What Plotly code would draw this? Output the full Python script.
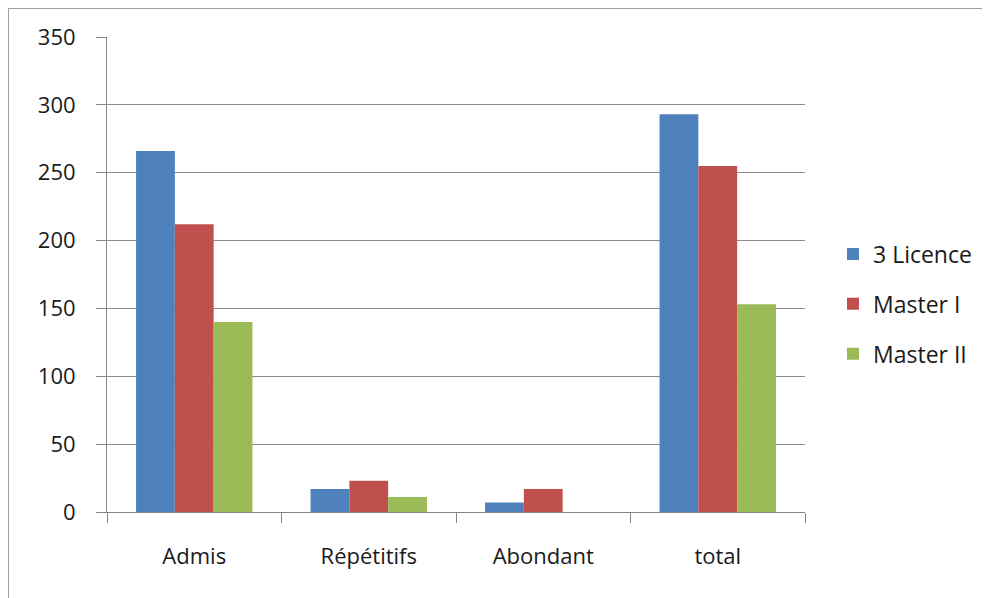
import plotly.graph_objects as go

categories = ["Admis", "Répétitifs", "Abondant", "total"]
series_names = ["3 Licence", "Master I", "Master II"]
licence3 = [266, 17, 7, 293]
master1 = [212, 23, 17, 255]
master2 = [140, 11, 0, 153]
colors = ["#4F81BD", "#C0504D", "#9BBB59"]
y_ticks = [0, 50, 100, 150, 200, 250, 300, 350]

fig = go.Figure()
for i, (name, vals) in enumerate(zip(series_names, [licence3, master1, master2])):
    fig.add_trace(go.Bar(
        x=categories, y=vals, name=name,
        marker=dict(color=colors[i], line=dict(width=0)),
        legendgroup=name,
    ))

FAM = "Open Sans, Liberation Sans, sans-serif"
font = dict(family=FAM, size=22, color="#1a1a1a")

# page has an 8px body offset; plot area should sit at x 107..805, y 37..512
L, T, PW, PH = 99, 29, 698, 475

fig.update_layout(
    width=990, height=598,
    margin=dict(l=L, r=990 - L - PW, t=T, b=598 - T - PH),
    paper_bgcolor="white", plot_bgcolor="white",
    barmode="group", bargap=0.333, bargroupgap=0,
    font=font,
    showlegend=True,
    legend=dict(
        x=(833 - 107) / PW, y=0.5 - 29.5 / PH, xanchor="left", yanchor="middle",
        font=dict(family=FAM, size=23, color="#1a1a1a"),
        tracegroupgap=17, itemwidth=30,
    ),
    xaxis=dict(
        showline=True, linecolor="#868686", linewidth=1,
        ticks="outside", ticklen=10, tickcolor="#868686", tickson="boundaries",
        showgrid=False, ticklabelstandoff=25,
    ),
    yaxis=dict(
        range=[0, 350], tickvals=y_ticks, showline=True, linecolor="#868686", linewidth=1,
        ticks="outside", ticklen=10, tickcolor="#868686",
        showgrid=True, gridcolor="#8C8C8C", gridwidth=1.3,
        ticklabelstandoff=16, zeroline=False,
    ),
    shapes=[
        dict(type="line", xref="paper", yref="paper",
             x0=(8 - 107) / PW, x1=(1000 - 107) / PW,
             y0=1 + 29 / PH, y1=1 + 29 / PH,
             line=dict(color="#A0A0A0", width=2), layer="below"),
        dict(type="line", xref="paper", yref="paper",
             x0=(8 - 107) / PW, x1=(8 - 107) / PW,
             y0=-0.3, y1=1 + 29 / PH,
             line=dict(color="#A0A0A0", width=2), layer="below"),
    ],
)

fig.write_html("out.html")
